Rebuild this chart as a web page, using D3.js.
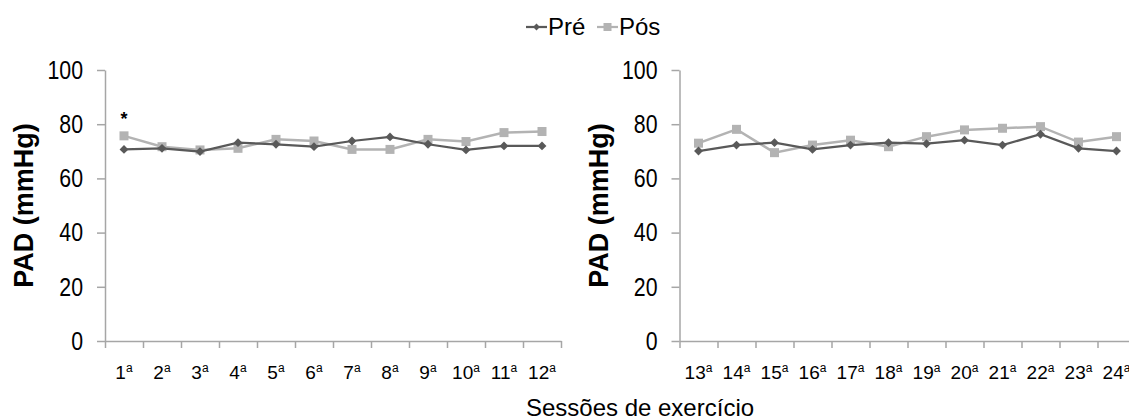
<!DOCTYPE html>
<html>
<head>
<meta charset="utf-8">
<script src="https://cdn.jsdelivr.net/npm/d3@7"></script>
<style>
  body { margin: 0; background: #fff; }
  text { font-family: "Liberation Sans", Arial, sans-serif; fill: #000; }
</style>
</head>
<body>
<div id="chart"></div>
<script>
// PAD pre/post per exercise session, two panels of 12 sessions each

const sessionsA = ["1", "2", "3", "4", "5", "6", "7", "8", "9", "10", "11", "12"];
const sessionsB = ["13", "14", "15", "16", "17", "18", "19", "20", "21", "22", "23", "24"];

const preA = [70.7, 71.1, 69.9, 73.2, 72.6, 71.7, 73.8, 75.3, 72.6, 70.5, 72.0, 72.0];
const posA = [75.7, 71.7, 70.5, 71.1, 74.4, 73.8, 70.7, 70.7, 74.4, 73.6, 76.9, 77.3];

const preB = [70.1, 72.3, 73.2, 70.7, 72.3, 73.2, 72.8, 74.1, 72.3, 76.3, 71.1, 70.1];
const posB = [73.0, 78.1, 69.5, 72.3, 74.1, 71.7, 75.4, 77.9, 78.5, 79.1, 73.4, 75.4];

const yTicks = [0, 20, 40, 60, 80, 100];
const seriesNames = ["Pré", "Pós"];
const significant = ["1"]; // sessions marked with *

const width = 1129, height = 420;
const preColor = "#595959", posColor = "#b3b3b3", axisColor = "#a6a6a6";

const svg = d3.select("#chart").append("svg")
  .attr("width", width)
  .attr("height", height);

const y = d3.scaleLinear().domain([0, 100]).range([341, 70]);

function panel(cats, pre, pos, x0, x1) {
  const g = svg.append("g");
  const x = d3.scaleBand().domain(cats).range([x0, x1]).paddingInner(0).paddingOuter(0);
  const xt = d3.scaleLinear().domain([0, cats.length]).range([x0, x1]);

  // y axis
  const ya = g.append("g")
    .attr("transform", `translate(${x0},0)`)
    .call(d3.axisLeft(y).tickValues(yTicks).tickSize(8).tickSizeOuter(0));
  ya.select(".domain").attr("stroke", axisColor).attr("stroke-width", 1.5);
  ya.selectAll(".tick line").attr("stroke", axisColor).attr("stroke-width", 1.5);
  ya.selectAll(".tick text")
    .attr("font-size", 26)
    .attr("x", -22 / 0.82)
    .attr("transform", "scale(0.82,1)")
    .style("font-family", "'Liberation Sans', Arial, sans-serif")
    .attr("fill", "#000");

  // x axis ticks between categories
  const xa = g.append("g")
    .attr("transform", `translate(0,${y(0)})`)
    .call(d3.axisBottom(xt).ticks(cats.length).tickFormat("").tickSize(7).tickSizeOuter(0));
  xa.select(".domain").attr("stroke", axisColor).attr("stroke-width", 1.5);
  xa.selectAll(".tick line").attr("stroke", axisColor).attr("stroke-width", 1.5);

  // category labels with superscript a
  const lab = g.append("g").selectAll("text")
    .data(cats)
    .join("text")
    .attr("x", d => x(d) + x.bandwidth() / 2)
    .attr("y", 379)
    .attr("text-anchor", "middle")
    .attr("font-size", 19);
  lab.append("tspan").text(d => d);
  lab.append("tspan").text("a").attr("font-size", 12).attr("dy", -7);

  // y label
  g.append("text")
    .attr("transform", `translate(${x0 - 72},${y(50)}) rotate(-90)`)
    .attr("text-anchor", "middle")
    .attr("font-size", 27)
    .attr("font-weight", "bold")
    .text("PAD (mmHg)");

  const line = d3.line()
    .x((d, i) => x(cats[i]) + x.bandwidth() / 2)
    .y(d => y(d));

  // Pós
  g.append("path").datum(pos)
    .attr("fill", "none").attr("stroke", posColor).attr("stroke-width", 2.5)
    .attr("d", line);
  g.selectAll("rect.pos").data(pos).join("rect")
    .attr("class", "pos")
    .attr("x", (d, i) => x(cats[i]) + x.bandwidth() / 2 - 4.5)
    .attr("y", d => y(d) - 4.5)
    .attr("width", 9).attr("height", 9)
    .attr("fill", posColor);

  // Pré
  g.append("path").datum(pre)
    .attr("fill", "none").attr("stroke", preColor).attr("stroke-width", 2.25)
    .attr("d", line);
  g.selectAll("path.pre").data(pre).join("path")
    .attr("class", "pre")
    .attr("transform", (d, i) => `translate(${x(cats[i]) + x.bandwidth() / 2},${y(d)})`)
    .attr("d", d3.symbol(d3.symbolDiamond2, 50))
    .attr("fill", preColor);

  // significance marks
  g.selectAll("text.sig").data(cats.filter(c => significant.includes(c))).join("text")
    .attr("class", "sig")
    .attr("x", d => x(d) + x.bandwidth() / 2)
    .attr("y", d => y(pos[cats.indexOf(d)]) - 11)
    .attr("text-anchor", "middle")
    .attr("font-size", 18)
    .attr("font-weight", "bold")
    .text("*");
}

panel(sessionsA, preA, posA, 105, 561);
panel(sessionsB, preB, posB, 679.5, 1135.5);

// x title
svg.append("text")
  .attr("x", 640)
  .attr("y", 416)
  .attr("text-anchor", "middle")
  .attr("font-size", 24)
  .text("Sessões de exercício");

// legend
const legend = svg.append("g");
const legItems = [
  { name: seriesNames[0], color: preColor, x: 526, sym: "diamond" },
  { name: seriesNames[1], color: posColor, x: 597, sym: "square" }
];
legItems.forEach(it => {
  legend.append("line")
    .attr("x1", it.x).attr("x2", it.x + 21)
    .attr("y1", 27).attr("y2", 27)
    .attr("stroke", it.color).attr("stroke-width", 2.25);
  if (it.sym === "diamond") {
    legend.append("path")
      .attr("transform", `translate(${it.x + 10.5},27)`)
      .attr("d", d3.symbol(d3.symbolDiamond2, 30))
      .attr("fill", it.color);
  } else {
    legend.append("rect")
      .attr("x", it.x + 10.5 - 4).attr("y", 23)
      .attr("width", 8).attr("height", 8)
      .attr("fill", it.color);
  }
  legend.append("text")
    .attr("x", it.x + 22)
    .attr("y", 35)
    .attr("font-size", 24)
    .text(it.name);
});
</script>
</body>
</html>
